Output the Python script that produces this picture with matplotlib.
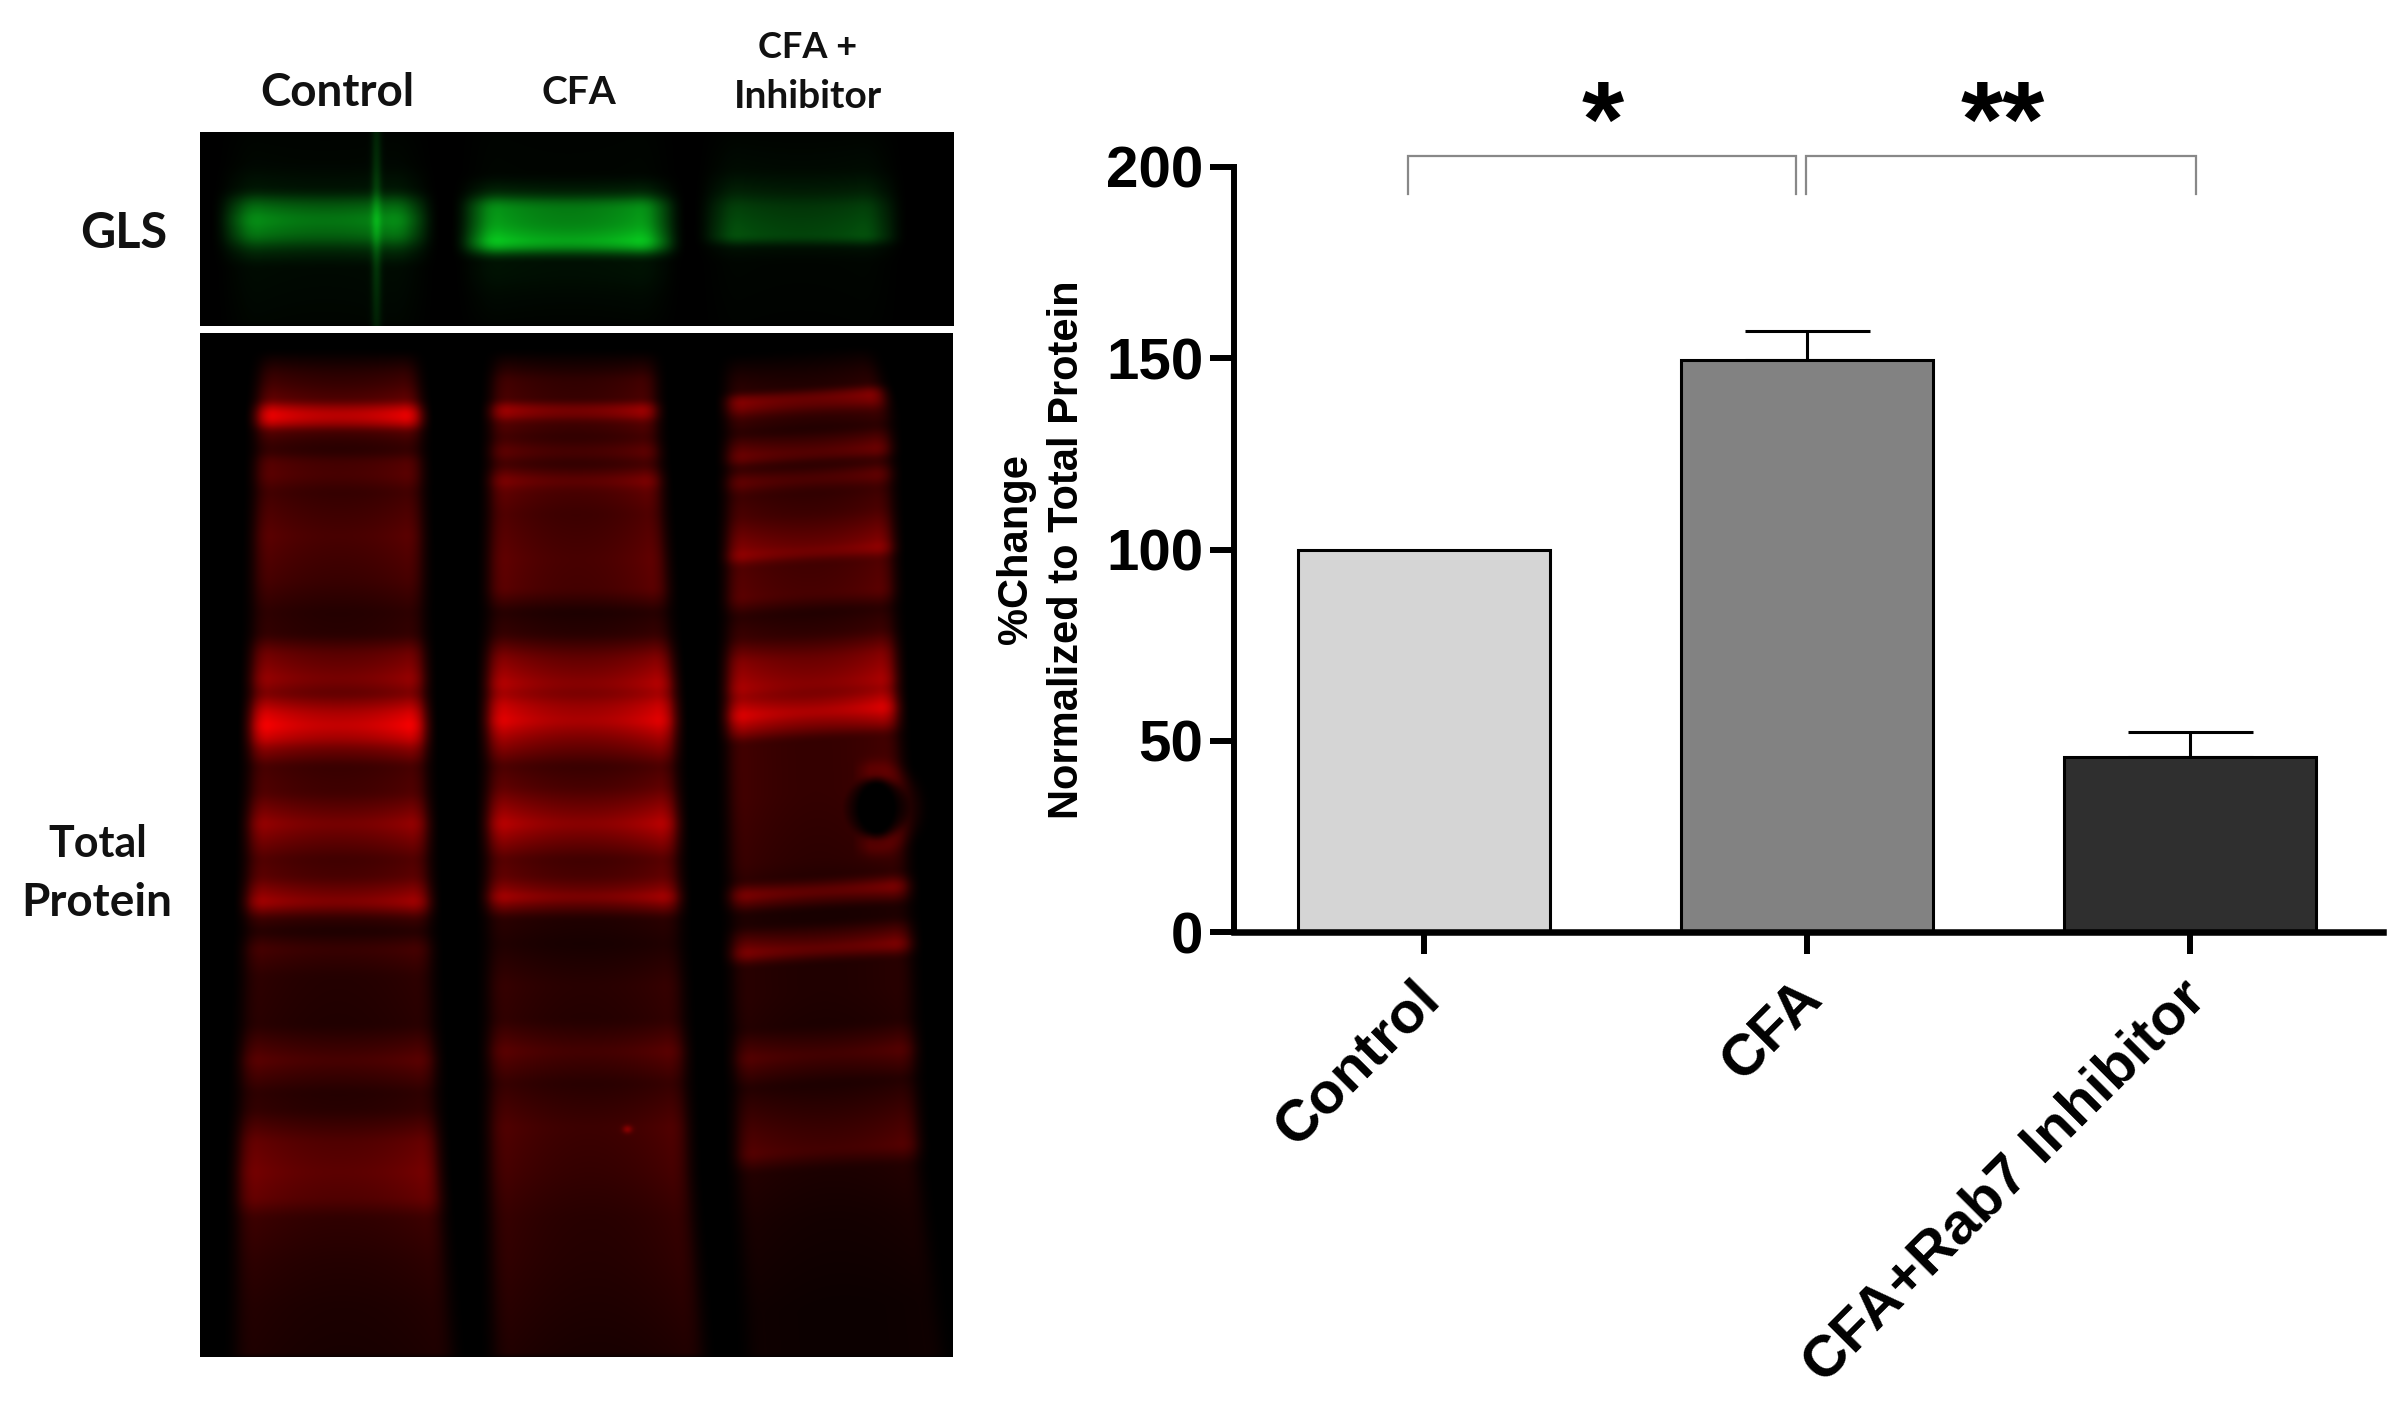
import numpy as np
import matplotlib
matplotlib.use('Agg')
import matplotlib.pyplot as plt

# bar chart values
groups = ['Control', 'CFA', 'CFA+Rab7 Inhibitor']
means = [100, 149.5, 45.7]
errs = [0, 7.5, 6.6]
bar_colors = ['#d5d5d5', '#828282', '#2f2f2f']

# significance brackets: x start, x end, star text, star x
brackets = [(-0.042, 0.971), (0.997, 2.016)]
bracket_top = 203
bracket_low = 193
stars = ['*', '**']
star_x = [0.466, 1.51]

# GLS blot, pixel row -> green level
g_ctrl_y = [132, 165, 190, 205, 219, 235, 250, 265, 326]
g_ctrl_v = [4, 8, 25, 110, 150, 120, 45, 12, 6]
g_cfa_y = [132, 175, 192, 205, 225, 243, 250, 258, 275, 295, 326]
g_cfa_v = [4, 6, 40, 150, 165, 215, 120, 20, 18, 10, 4]
g_inh_y = [132, 170, 192, 205, 225, 238, 245, 260, 326]
g_inh_v = [4, 12, 35, 65, 80, 85, 20, 6, 3]
g_lanes = [(226, 424), (466, 670), (708, 892)]

# total protein blot, pixel row -> red level
r_ctrl_y = [340, 350, 372, 385, 400, 407, 415, 423, 430, 440, 450, 462, 475, 491, 535, 580, 611, 634, 652,
            678, 693, 712, 725, 738, 747, 765, 792, 823, 858, 876, 892, 901, 910, 917, 930, 948, 975, 1024,
            1059, 1091, 1109, 1140, 1171, 1198, 1216, 1260, 1305, 1356]
r_ctrl_v = [0, 0, 50, 70, 100, 190, 245, 190, 90, 60, 50, 85, 90, 65, 90, 70, 45, 50, 110,
            150, 120, 215, 250, 200, 140, 70, 80, 150, 80, 90, 140, 165, 110, 60, 35, 70, 45, 40,
            90, 45, 50, 100, 115, 100, 60, 45, 35, 30]
r_cfa_y = [340, 350, 370, 379, 400, 406, 413, 422, 437, 451, 464, 480, 491, 513, 558, 589, 611, 634, 656,
           683, 693, 705, 720, 738, 765, 787, 823, 858, 876, 889, 896, 906, 917, 943, 984, 1019, 1050, 1082,
           1126, 1171, 1216, 1260, 1356]
r_cfa_v = [0, 0, 40, 60, 70, 140, 150, 80, 60, 90, 60, 120, 90, 75, 90, 85, 35, 50, 120,
           170, 150, 190, 215, 150, 70, 90, 175, 80, 90, 130, 160, 100, 40, 30, 50, 45, 85, 50,
           75, 65, 50, 45, 30]
r_inh_y = [340, 350, 372, 388, 395, 402, 415, 429, 446, 453, 464, 478, 491, 513, 545, 551, 562, 594, 611,
           634, 656, 683, 693, 711, 725, 738, 792, 858, 876, 890, 908, 921, 948, 961, 992, 1024, 1053, 1082,
           1126, 1149, 1167, 1216, 1305, 1356]
r_inh_v = [0, 0, 30, 45, 130, 130, 60, 40, 95, 110, 50, 100, 60, 75, 130, 150, 80, 90, 40,
           60, 130, 170, 150, 225, 150, 65, 65, 55, 45, 130, 30, 30, 130, 40, 40, 35, 85, 35,
           70, 85, 35, 25, 15, 15]

# lane edges, pixel row -> pixel column
r_rows = [340, 415, 700, 900, 1170, 1356]
r_ctrl_left = [256, 251, 245, 240, 231, 228]
r_ctrl_right = [420, 426, 430, 435, 445, 460]
r_cfa_left = [489, 485, 481, 481, 483, 486]
r_cfa_right = [660, 662, 680, 685, 695, 710]
r_inh_left = [721, 721, 721, 724, 731, 741]
r_inh_right = [874, 895, 902, 915, 925, 950]


def lane(rows, cols, prof_y, prof_v, left, right, slope=0.0, boost=0.25):
    yy, xx = np.meshgrid(rows, cols, indexing='ij')
    mid = (left + right) / 2
    yy2 = yy - slope * (xx - mid[:, None])
    v = np.interp(yy2, prof_y, prof_v)
    u = (xx - left[:, None]) / (right - left)[:, None]
    edge = np.clip(u * 12, 0, 1) * np.clip((1 - u) * 12, 0, 1)
    shade = 0.8 + boost * np.abs(2 * u - 1) ** 2
    return v * edge * shade


def soften(img, nx=7, ny=7):
    kx = np.ones(nx) / nx
    ky = np.ones(ny) / ny
    img = np.apply_along_axis(lambda a: np.convolve(a, ky, mode='same'), 0, img)
    img = np.apply_along_axis(lambda a: np.convolve(a, kx, mode='same'), 1, img)
    return img


# green panel
gy = np.arange(132, 326)
gx = np.arange(200, 954)
green = np.zeros((len(gy), len(gx)))
for (a, b), py, pv in zip(g_lanes, [g_ctrl_y, g_cfa_y, g_inh_y], [g_ctrl_v, g_cfa_v, g_inh_v]):
    green += lane(gy, gx, py, pv, np.full(len(gy), a), np.full(len(gy), b), boost=0.35)
green = soften(green, 35, 11)
streak = np.exp(-((gx - 376) / 5.0) ** 2)
green = green + streak[None, :] * np.interp(gy, [132, 200, 220, 250, 326], [30, 45, 50, 45, 25])[:, None]
green_rgb = np.dstack([green * 0.04, green, green * 0.15]) / 255
green_rgb = np.clip(green_rgb, 0, 1)

# red panel
ry = np.arange(333, 1356)
rx = np.arange(200, 953)
red = np.zeros((len(ry), len(rx)))
lanes = [(r_ctrl_y, r_ctrl_v, r_ctrl_left, r_ctrl_right, 0.0, 0.35),
         (r_cfa_y, r_cfa_v, r_cfa_left, r_cfa_right, 0.0, 0.45),
         (r_inh_y, r_inh_v, r_inh_left, r_inh_right, -0.06, 0.35)]
for py, pv, pl, pr, sl, bo in lanes:
    left = np.interp(ry, r_rows, pl)
    right = np.interp(ry, r_rows, pr)
    red += lane(ry, rx, py, pv, left, right, sl, bo)
xx, yy = np.meshgrid(rx, ry)
hole = ((xx - 876) / 27.0) ** 2 + ((yy - 807) / 30.0) ** 2
red = red + 35 * np.exp(-((np.sqrt(hole) - 1.3) / 0.3) ** 2) * (xx > 860)
red = red * np.clip((hole - 0.85) * 6, 0, 1)
red = soften(red, 17, 9)
red = red + 70 * np.exp(-(((xx - 627) / 5.0) ** 2 + ((yy - 1128) / 4.0) ** 2))
red_rgb = np.clip(np.dstack([red, red * 0.0, red * 0.0]) / 255, 0, 1)

fig = plt.figure(figsize=(24.07, 14.07), dpi=100)

# pixel axes for the photo panels and their captions
bg = fig.add_axes([0, 0, 1, 1])
bg.set_xlim(0, 2407)
bg.set_ylim(1407, 0)
bg.axis('off')
bg.imshow(green_rgb, extent=(200, 954, 326, 132), aspect='auto', interpolation='bilinear')
bg.imshow(red_rgb, extent=(200, 953, 1357, 333), aspect='auto', interpolation='bilinear')
bg.set_xlim(0, 2407)
bg.set_ylim(1407, 0)

cap = dict(family='Lato', weight='bold', ha='center', va='center', color='#111111')
bg.text(337, 93, 'Control', fontsize=33, **cap)
bg.text(579, 93, 'CFA', fontsize=28, **cap)
bg.text(808, 47, 'CFA +', fontsize=26, **cap)
bg.text(808, 96, 'Inhibitor', fontsize=28, **cap)
bg.text(124, 233, 'GLS', fontsize=35, **cap)
bg.text(98, 844, 'Total', fontsize=31, **cap)
bg.text(97, 903, 'Protein', fontsize=33, **cap)

# bar chart
ax = fig.add_axes([1234 / 2407, 1 - 932 / 1407, (2383 - 1234) / 2407, 765 / 1407])
ax.patch.set_alpha(0)
x = np.arange(len(groups))
ax.bar(x, means, width=0.658, color=bar_colors, edgecolor='black', linewidth=2.2, zorder=2)
ax.errorbar(x[1:], means[1:], yerr=[[0, 0], errs[1:]], fmt='none', ecolor='black',
            elinewidth=2.2, capsize=45, capthick=2.2, zorder=1)
ax.set_xlim(-0.496, 2.504)
ax.set_ylim(0, 200)
ax.set_yticks([0, 50, 100, 150, 200])
ax.set_xticks(x)
ax.set_xticklabels([])
# labels sit a bit left of their ticks, so annotate instead of tick labels
for i, g in enumerate(groups):
    ax.annotate(g, xy=(i, 0), xycoords='data', xytext=(-8.6, -28), textcoords='offset points',
                rotation=45, ha='right', va='top', rotation_mode='anchor',
                family='Liberation Sans', weight='bold', fontsize=42, annotation_clip=False)
for t in ax.get_yticklabels():
    t.set_family('Liberation Sans')
    t.set_weight('bold')
    t.set_fontsize(42)
ax.tick_params(axis='y', length=17, width=4.3, pad=5)
ax.tick_params(axis='x', length=16, width=4.3)
for s in ['top', 'right']:
    ax.spines[s].set_visible(False)
ax.spines['left'].set_linewidth(4.3)
ax.spines['bottom'].set_linewidth(4.7)
ax.set_ylabel('%Change\nNormalized to Total Protein', family='Liberation Sans', weight='bold',
              fontsize=30, labelpad=14, linespacing=1.35)

for (a, b) in brackets:
    ax.plot([a, a, b, b], [bracket_low, bracket_top, bracket_top, bracket_low], color='#888888',
            lw=1.6, clip_on=False, solid_joinstyle='miter')
for s, sx in zip(stars, star_x):
    ax.text(sx, 203, s, ha='center', va='baseline', family='Liberation Sans', weight='bold',
            fontsize=78, clip_on=False)

fig.savefig('out.png', dpi=100)
